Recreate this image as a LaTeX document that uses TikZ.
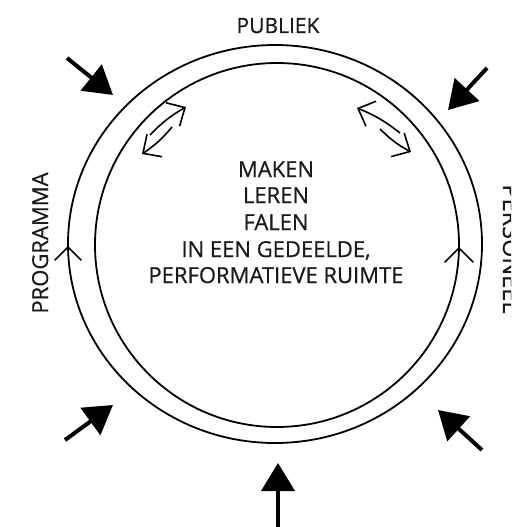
\documentclass[tikz,border=0pt]{standalone}
\usepackage{fontspec}
\setmainfont{Open Sans}[FakeBold=0.6]
\newfontfamily\lblfont{Open Sans}[FakeBold=0.6]
\usetikzlibrary{arrows.meta}
\definecolor{ink}{HTML}{1A1A1A}
\begin{document}
\begin{tikzpicture}[x=1pt,y=-1pt,
  ring/.style={line width=1.8pt, draw=black},
  chev/.style={line width=1.5pt, draw=black, line cap=round, line join=miter},
  bigarrow/.style={line width=4pt, draw=black, -{Triangle[length=28pt,width=33pt]}},
  dblarrow/.style={line width=1.6pt, draw=black, -{Straight Barb[length=14pt,width=27pt,line width=1.6pt]}},
  lbl/.style={text=ink, inner sep=0pt, font=\lblfont\fontsize{22}{26.5}\selectfont, anchor=base},
]
\useasboundingbox (0,0) rectangle (511,527);
\clip (0,0) rectangle (511,527);
% rings
\coordinate (oc) at (275,244);
\coordinate (ic) at (277,245);
\draw[ring] (oc) ellipse [x radius=207, y radius=199];
\draw[ring] (ic) circle [radius=182];
% chevrons on the rings
\coordinate (cl1) at (55,260); \coordinate (cl2) at (68,247); \coordinate (cl3) at (81,260);
\draw[chev] (cl1) -- (cl2) -- (cl3);
\coordinate (cr1) at (445,262); \coordinate (cr2) at (459,248); \coordinate (cr3) at (473,262);
\draw[chev] (cr1) -- (cr2) -- (cr3);
% big arrows
\coordinate (tlA) at (67,58);   \coordinate (tlB) at (113,95);
\coordinate (trA) at (487,68);  \coordinate (trB) at (448,110);
\coordinate (blA) at (65,440);  \coordinate (blB) at (113,405);
\coordinate (brA) at (482,450); \coordinate (brB) at (438,410);
\coordinate (bA) at (278,535);  \coordinate (bB) at (278,463);
\draw[bigarrow] (tlA) -- (tlB);
\draw[bigarrow] (trA) -- (trB);
\draw[bigarrow] (blA) -- (blB);
\draw[bigarrow] (brA) -- (brB);
\draw[bigarrow] (bA) -- (bB);
% double arrows inside
\coordinate (a1s) at (150,135); \coordinate (a1e) at (186,107);
\coordinate (a2s) at (172,127); \coordinate (a2e) at (142,154);
\coordinate (b1s) at (400,133); \coordinate (b1e) at (357,108);
\coordinate (b2s) at (380,129); \coordinate (b2e) at (411,152);
\draw[dblarrow] (a1s) to[bend left=8] (a1e);
\draw[dblarrow] (a2s) to[bend left=8] (a2e);
\draw[dblarrow] (b1s) to[bend right=8] (b1e);
\draw[dblarrow] (b2s) to[bend right=8] (b2e);
% texts
\node[lbl] (t1) at (276,177) {MAKEN};
\node[lbl] (t2) at (276,203) {LEREN};
\node[lbl] (t3) at (276,230) {FALEN};
\node[lbl] (t4) at (276,257) {IN EEN GEDEELDE,};
\node[lbl] (t5) at (276,283) {PERFORMATIEVE RUIMTE};
\node[lbl, font=\lblfont\fontsize{21}{25}\selectfont] (pub) at (278,33) {PUBLIEK};
\node[lbl, rotate=90] (prog) at (48,243) {PROGRAMMA};
\node[lbl, rotate=-90, font=\lblfont\fontsize{23.5}{28}\selectfont] (pers) at (503,249) {PERSONEEL};
\end{tikzpicture}
\end{document}
